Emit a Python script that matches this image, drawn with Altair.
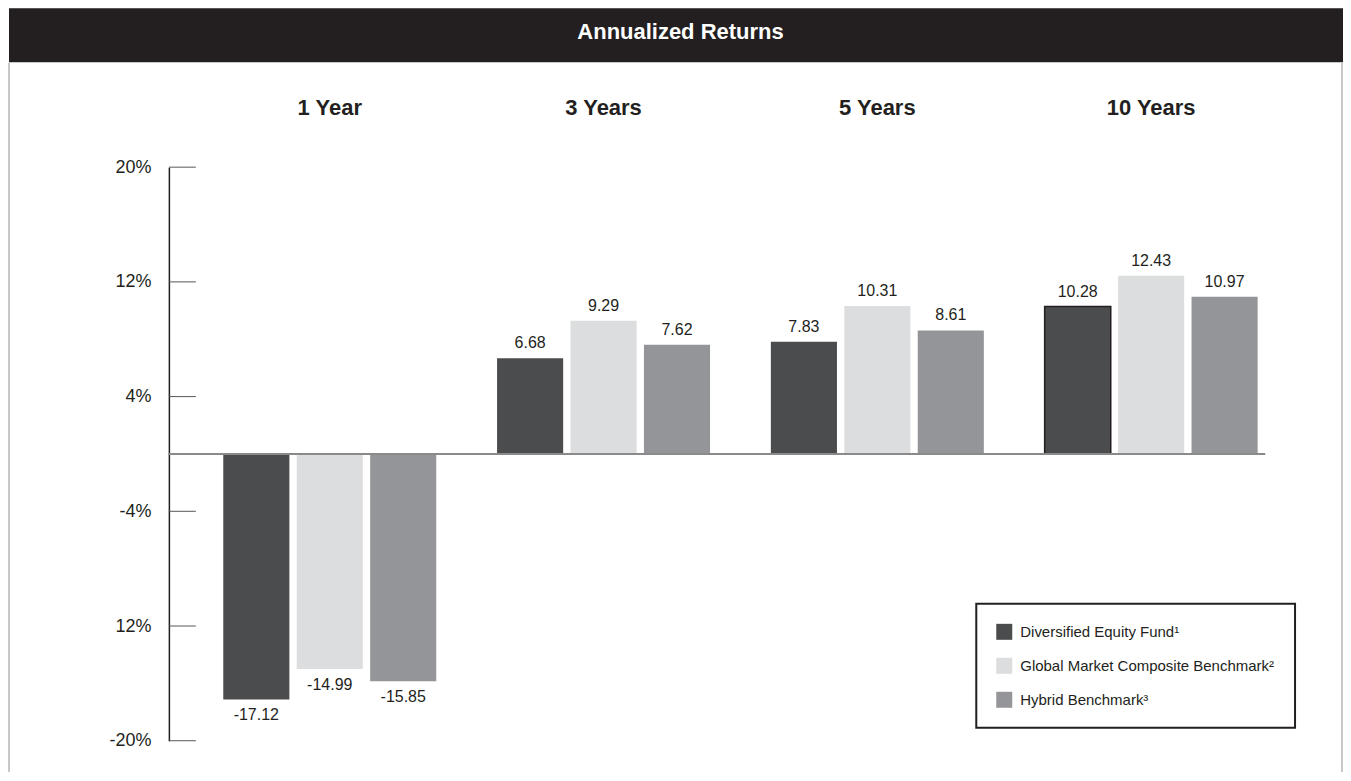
import altair as alt
import pandas as pd

periods = ["1 Year", "3 Years", "5 Years", "10 Years"]
series = ["Diversified Equity Fund¹", "Global Market Composite Benchmark²", "Hybrid Benchmark³"]
fund_values = [-17.12, 6.68, 7.83, 10.28]
global_values = [-14.99, 9.29, 10.31, 12.43]
hybrid_values = [-15.85, 7.62, 8.61, 10.97]
colors = ["#4b4c4e", "#dcdddf", "#939598"]
tick_values = [20, 12, 4, -4, -12, -20]
title_text = "Annualized Returns"

rows = []
for s, vals in zip(series, [fund_values, global_values, hybrid_values]):
    for p, v in zip(periods, vals):
        rows.append({"period": p, "series": s, "value": v, "label": f"{v:.2f}"})
df = pd.DataFrame(rows)
ticks_df = pd.DataFrame({"v": tick_values})

FONT = "Liberation Sans"
TXT = "#231f20"

yscale = alt.Scale(domain=[-20, 20], nice=False, zero=False)
xscale = alt.Scale(domain=periods, range=[24, 1120], paddingInner=0, paddingOuter=0)

x_enc = alt.X("period:N", sort=periods, scale=xscale, title=None,
              axis=alt.Axis(orient="top", domain=False, ticks=False, labelPadding=48,
                            labelFontSize=22, labelFontWeight="bold", labelFont=FONT,
                            labelColor=TXT, labelAngle=0, minExtent=104))
xoff = alt.XOffset("series:N", sort=series,
                   scale=alt.Scale(paddingInner=0.1, paddingOuter=0.414))
y_enc = alt.Y("value:Q", scale=yscale, title=None,
              axis=alt.Axis(values=tick_values, ticks=False, grid=False,
                            domainColor=TXT, domainWidth=1.5, labelPadding=18,
                            labelFontSize=18, labelFont=FONT, labelColor=TXT,
                            labelExpr="datum.value == -12 ? '12%' : datum.value + '%'",
                            minExtent=160))

bars = alt.Chart(df).mark_bar(stroke=TXT).encode(
    x=x_enc,
    xOffset=xoff,
    y=y_enc,
    y2=alt.datum(0),
    color=alt.Color("series:N", sort=series,
                    scale=alt.Scale(domain=series, range=colors),
                    legend=alt.Legend(title=None, orient="none", legendX=808, legendY=596,
                                      symbolType="square", symbolSize=256,
                                      symbolStrokeWidth=0, labelFontSize=15,
                                      labelFont=FONT, labelColor=TXT, labelOffset=8,
                                      rowPadding=18, padding=20, strokeColor=TXT,
                                      labelLimit=400)),
    strokeWidth=alt.condition("datum.period == '10 Years' && datum.series == 'Diversified Equity Fund¹'",
                              alt.value(1.5), alt.value(0)),
)

pos_text = alt.Chart(df).transform_filter("datum.value >= 0").mark_text(
    baseline="alphabetic", dy=-10, fontSize=16, font=FONT, color=TXT
).encode(x=alt.X("period:N", sort=periods, scale=xscale), xOffset=xoff,
         y=alt.Y("value:Q", scale=yscale), text="label:N")

neg_text = alt.Chart(df).transform_filter("datum.value < 0").mark_text(
    baseline="alphabetic", dy=21, fontSize=16, font=FONT, color=TXT
).encode(x=alt.X("period:N", sort=periods, scale=xscale), xOffset=xoff,
         y=alt.Y("value:Q", scale=yscale), text="label:N")

tick_rules = alt.Chart(ticks_df).mark_rule(color="#555555", strokeWidth=1).encode(
    y=alt.Y("v:Q", scale=yscale), x=alt.value(0), x2=alt.value(27))

zero_rule = alt.Chart(ticks_df).mark_rule(color="#8a8a8a", strokeWidth=2).encode(
    y=alt.datum(0))

frame_left = alt.Chart(ticks_df).mark_rule(color="#c8c8c8", strokeWidth=1).encode(
    x=alt.value(-160), y=alt.value(-104), y2=alt.value(605))
frame_right = alt.Chart(ticks_df).mark_rule(color="#c8c8c8", strokeWidth=1).encode(
    x=alt.value(1174), y=alt.value(-104), y2=alt.value(605))

main = alt.layer(frame_left, frame_right, tick_rules, bars, zero_rule, pos_text, neg_text).properties(
    width=1097, height=574)

header_bg = alt.Chart(pd.DataFrame({"t": [title_text]})).mark_rect(color="#231f20").encode(
    x=alt.value(-160), x2=alt.value(1175), y=alt.value(0), y2=alt.value(54))
header_txt = alt.Chart(pd.DataFrame({"t": [title_text]})).mark_text(
    color="white", fontSize=22, fontWeight="bold", font=FONT, baseline="middle", align="center"
).encode(x=alt.value(512), y=alt.value(24), text="t:N")
header = alt.layer(header_bg, header_txt).properties(width=1097, height=54)

chart = alt.vconcat(header, main, spacing=0).properties(padding=0).configure_view(
    strokeWidth=0).configure_legend(strokeWidth=2)

chart.save("out.html", embed_options={"renderer": "svg", "actions": False})
